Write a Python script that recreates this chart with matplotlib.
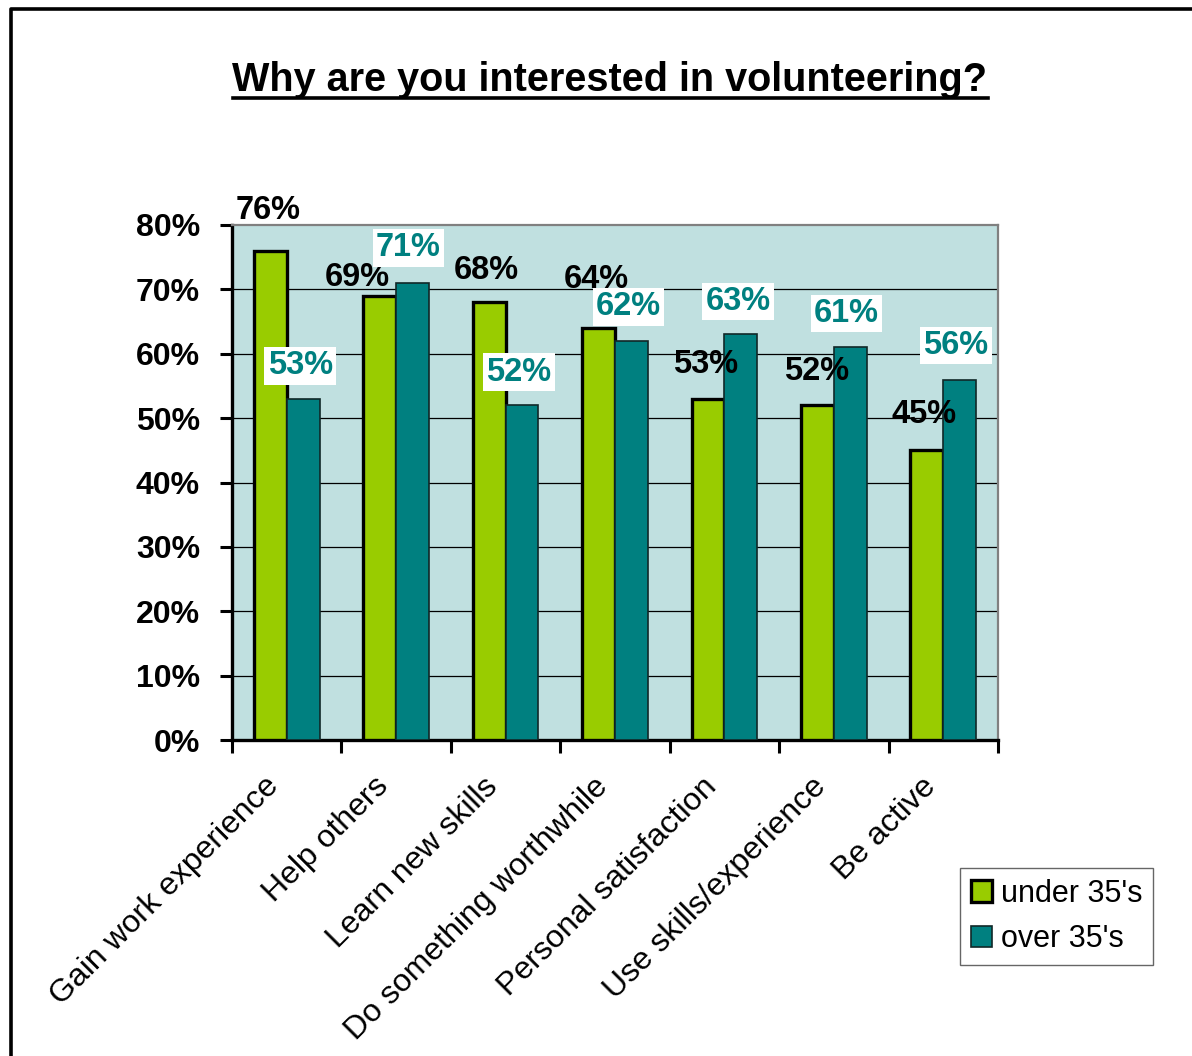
import matplotlib
matplotlib.use("Agg")
import matplotlib.pyplot as plt
import numpy as np
from matplotlib.lines import Line2D
from matplotlib.ticker import FixedLocator

plt.rcParams["font.family"] = ["Liberation Sans", "DejaVu Sans"]

categories = [
    "Gain work experience",
    "Help others",
    "Learn new skills",
    "Do something worthwhile",
    "Personal satisfaction",
    "Use skills/experience",
    "Be active",
]
under_35 = [76, 69, 68, 64, 53, 52, 45]
over_35 = [53, 71, 52, 62, 63, 61, 56]
series_names = ["under 35's", "over 35's"]

GREEN = "#99CC00"
TEAL = "#008080"
PLOT_BG = "#C0E0E0"

# label nudges (pixels) relative to the top centre of each bar
under_nudge = [(-2, 40), (-22, 18), (-3, 32), (-2, 49), (-2, 34), (-1, 34), (-3, 36)]
over_nudge = [(-3, 33), (-4, 35), (-3, 33), (-3, 34), (-3, 33), (-4, 34), (-4, 34)]

fig = plt.figure(figsize=(11.92, 10.56), dpi=100)
ax = fig.add_axes([232 / 1192, 1 - 740 / 1056, 766 / 1192, 515 / 1056])
ax.set_facecolor(PLOT_BG)

x = np.arange(len(categories))
w = 0.30
b1 = ax.bar(x - w / 2, under_35, w, color=GREEN, edgecolor="black",
            linewidth=2.4, zorder=3, label=series_names[0])
b2 = ax.bar(x + w / 2, over_35, w, color=TEAL, edgecolor="#102828",
            linewidth=1.2, zorder=3, label=series_names[1])

ax.set_xlim(-0.5, len(categories) - 0.5)
ax.set_ylim(0, 80)

# horizontal gridlines
for v in range(10, 80, 10):
    ax.axhline(v, color="black", lw=0.9, zorder=1)

ax.set_yticks(range(0, 81, 10))
ax.set_yticklabels([f"{v}%" for v in range(0, 81, 10)],
                   fontsize=23, fontweight="bold")
ax.tick_params(axis="y", direction="out", length=9, width=2.2, pad=14)

# ticks between categories, labels centred under each group
ax.xaxis.set_major_locator(FixedLocator(np.arange(-0.5, len(categories), 1.0)))
ax.set_xticklabels([])
ax.tick_params(axis="x", direction="out", length=9, width=2.2)
for i, name in enumerate(categories):
    ax.annotate(name, xy=(i, 0), xycoords="data",
                xytext=(-12, -42), textcoords="offset pixels",
                rotation=45, rotation_mode="anchor",
                ha="right", va="center", fontsize=23)

for side in ("left", "bottom"):
    ax.spines[side].set_linewidth(2.4)
    ax.spines[side].set_color("black")
for side in ("top", "right"):
    ax.spines[side].set_linewidth(1.6)
    ax.spines[side].set_color("#808080")

# value labels
for i, v in enumerate(under_35):
    dx, dy = under_nudge[i]
    ax.annotate(f"{v}%", xy=(x[i] - w / 2, v), xytext=(dx, dy),
                textcoords="offset pixels", ha="center", va="center",
                fontsize=23.5, fontweight="bold", color="black", zorder=5,
                annotation_clip=False)
for i, v in enumerate(over_35):
    dx, dy = over_nudge[i]
    ax.annotate(f"{v}%", xy=(x[i] + w / 2, v), xytext=(dx, dy),
                textcoords="offset pixels", ha="center", va="center",
                fontsize=23.5, fontweight="bold", color=TEAL, zorder=6,
                bbox=dict(boxstyle="square,pad=0.1", fc="white", ec="none"),
                annotation_clip=False)

leg = fig.legend(handles=[b1, b2], labels=series_names,
                 loc="upper left", bbox_to_anchor=(960 / 1192, 1 - 868 / 1056),
                 fontsize=22, frameon=True, fancybox=False, edgecolor="#404040",
                 handlelength=0.7, handleheight=0.7, handletextpad=0.3,
                 borderpad=0.35, labelspacing=0.5, borderaxespad=0)
leg.get_frame().set_linewidth(1.0)

# title with underline
title = fig.text(610 / 1192, 1 - 80 / 1056, "Why are you interested in volunteering?",
                 ha="center", va="center", fontsize=28.5, fontweight="bold")
fig.canvas.draw()
bb = title.get_window_extent().transformed(fig.transFigure.inverted())
fig.add_artist(Line2D([bb.x0, bb.x1], [bb.y0 + 0.001, bb.y0 + 0.001],
                      transform=fig.transFigure, color="black", lw=2.6))

# outer frame (runs off the right and bottom edges)
fig.add_artist(Line2D([11 / 1192, 11 / 1192, 1.0], [0.0, 1 - 9 / 1056, 1 - 9 / 1056],
                      transform=fig.transFigure, color="black", lw=2.6))

fig.savefig("out.png", dpi=100)
